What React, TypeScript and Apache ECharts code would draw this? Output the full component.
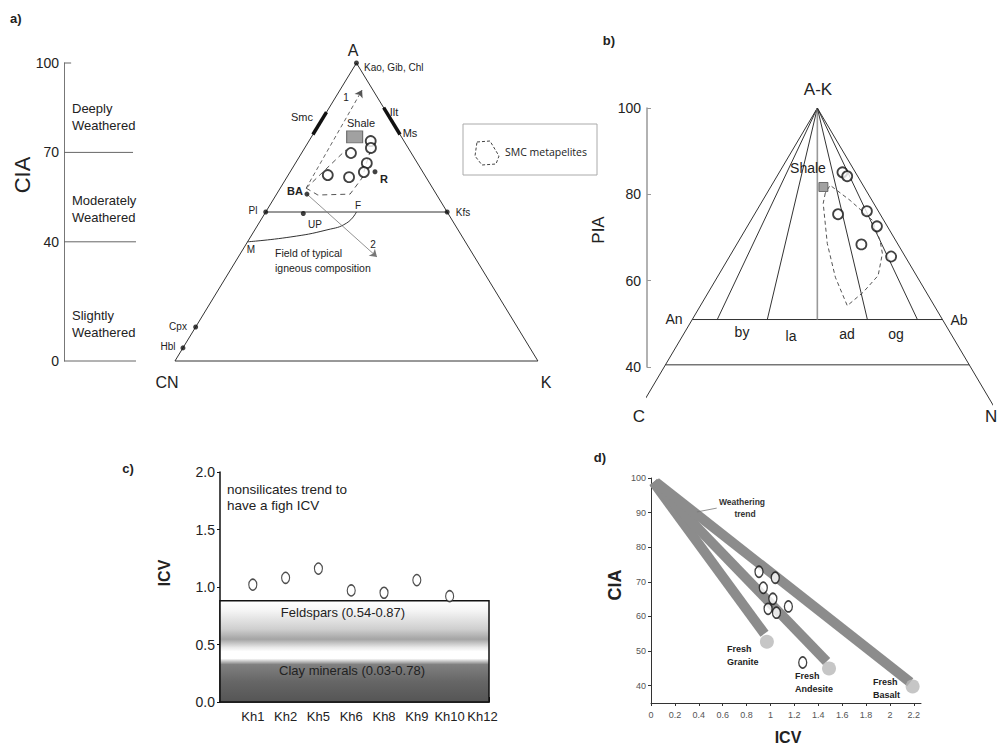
import { useEffect, useRef } from 'react';
import * as echarts from 'echarts';

// ---------------- Panel a: A–CN–K ternary with CIA scale ----------------
const ciaScaleLabels = [0, 40, 70, 100];
const ciaZoneLines = [70, 40, 0];
const ciaZoneNames = [['Deeply', 'Weathered'], ['Moderately', 'Weathered'], ['Slightly', 'Weathered']];
// reference compositions: A (= CIA) and K/(CN+K) share
const aRefNames = ['Kao, Gib, Chl', 'Pl', 'Kfs', 'UP', 'BA', 'R', 'Cpx', 'Hbl'];
const aRefA = [100, 50, 50, 49.5, 56, 63.5, 11.4, 4.4];
const aRefK = [0.5, 0, 1, 0.21, 0.19, 0.64, 0, 0];
const aSampleA = [73.8, 71.5, 69.8, 66.4, 63.4, 61.7, 62.4];
const aSampleK = [0.65, 0.64, 0.45, 0.585, 0.556, 0.447, 0.29];
const aShaleA = 75.2;
const aShaleK = 0.48;
const aSmcA = [76, 83.5];
const aIltA = [85, 76];
const aIgneousA = [40, 41.6, 44, 46.3, 50];
const aIgneousK = [0, 0.187, 0.355, 0.45, 0.5];
const aFieldA = [58, 55.7, 56, 61.4, 68.1, 70.5];
const aFieldK = [0.17, 0.26, 0.46, 0.54, 0.6, 0.63];
const aFieldLinkA = [58, 70.8];
const aFieldLinkK = [0.17, 0.4];
const aTrend1A = [58, 90.9];
const aTrend1K = [0.17, 0.67];
const aTrend2A = [56, 34.9];
const aTrend2K = [0.19, 0.587];

// ---------------- Panel b: A-K – C – N ternary with PIA scale ----------------
const piaScaleLabels = [40, 60, 80, 100];
const plagDivisions = [0.1, 0.3, 0.5, 0.7, 0.9];
const plagNames = ['by', 'la', 'ad', 'og'];
const bFeldsparPIA = 51;
const bBasePIA = 40.5;
const bSamplePIA = [85.1, 84.2, 75.4, 76.1, 72.6, 68.4, 65.6];
const bSampleAb = [0.83, 0.87, 0.665, 0.906, 0.926, 0.773, 0.92];
const bShalePIA = 81.7;
const bShaleAb = 0.565;
const bFieldPIA = [80.3, 77.9, 68.6, 60.8, 54.2, 57.3, 61.2, 66.3, 69.3, 74, 78.6, 82.1, 80.3];
const bFieldAb = [0.579, 0.552, 0.562, 0.59, 0.628, 0.71, 0.807, 0.878, 0.9, 0.914, 0.8, 0.64, 0.579];

// ---------------- Panel c: ICV per sample ----------------
const cCategories = ['Kh1', 'Kh2', 'Kh5', 'Kh6', 'Kh8', 'Kh9', 'Kh10', 'Kh12'];
const cICV = [1.02, 1.08, 1.16, 0.97, 0.95, 1.06, 0.92];
const cMineralTop = 0.88;

// ---------------- Panel d: CIA vs ICV ----------------
const dICV = [0.904, 1.04, 0.94, 1.02, 0.98, 1.05, 1.15, 1.27];
const dCIA = [72.9, 71.2, 68.3, 65.1, 62.2, 61.1, 62.9, 46.7];
const dRocks = ['Granite', 'Andesite', 'Basalt'];
const dTrendStartICV = [0.02, 0.02, 0.04];
const dTrendStartCIA = [98.8, 98.8, 98.8];
const dTrendEndICV = [0.95, 1.47, 2.17];
const dTrendEndCIA = [55, 47, 41];
const dFreshICV = [0.97, 1.49, 2.19];
const dFreshCIA = [52.7, 45, 39.8];
const dXTicks = [0, 0.2, 0.4, 0.6, 0.8, 1, 1.2, 1.4, 1.6, 1.8, 2, 2.2];
const dYTicks = [40, 50, 60, 70, 80, 90, 100];

// ---------------- geometry (layout only) ----------------
const A_CN_X = 37.3;
const A_K_X = 159.3;
const A_APEX_X = 98.3;
const B_APEX_X = 39.5;
const B_SLOPE = 0.592;

function triA(a: number, k: number): [number, number] {
  const left = A_CN_X + (A_APEX_X - A_CN_X) * a / 100;
  const right = A_K_X - (A_K_X - A_APEX_X) * a / 100;
  return [left + k * (right - left), a];
}
function triB(p: number, ab: number): [number, number] {
  const hw = (100 - p) * B_SLOPE;
  return [B_APEX_X + (ab - 0.5) * 2 * hw, p];
}

const FONT = '"Liberation Sans", Arial, Helvetica, sans-serif';

function txt(x: number, y: number, text: string, size: number, opts: any = {}) {
  return {
    type: 'text',
    x,
    y,
    rotation: opts.rotation || 0,
    silent: true,
    z: 10,
    style: {
      text,
      fontSize: size,
      fontFamily: opts.family || FONT,
      fontWeight: opts.bold ? 'bold' : 'normal',
      fill: opts.color || '#222',
      textAlign: opts.align || 'center',
      textVerticalAlign: 'middle',
    },
  };
}

function buildOption() {
  const A = { xAxisIndex: 0, yAxisIndex: 0 };
  const B = { xAxisIndex: 1, yAxisIndex: 1 };
  const C = { xAxisIndex: 2, yAxisIndex: 2 };
  const D = { xAxisIndex: 3, yAxisIndex: 3 };
  const ln = (axes: any, data: any[], color: string, width: number, type: any = 'solid', extra: any = {}) => ({
    type: 'line',
    ...axes,
    data,
    symbol: 'none',
    silent: true,
    clip: false,
    lineStyle: { color, width, type },
    z: 2,
    ...extra,
  });

  const series: any[] = [];

  // ---- Panel a ----
  ciaZoneLines.forEach((v, i) => {
    series.push(ln(A, [[0, v], [i === 0 ? 23.2 : 24.2, v]], '#666', 1));
  });
  series.push(ln(A, [[0, 100], [2.4, 100]], '#666', 1));
  series.push(ln(A, [triA(0, 0), triA(100, 0.5), triA(0, 1), triA(0, 0)], '#333', 1, 'solid', {
    markLine: {
      silent: true,
      symbol: ['none', 'arrow'],
      symbolSize: 7,
      label: { show: false },
      data: [
        [{ coord: triA(aTrend1A[0], aTrend1K[0]) }, { coord: triA(aTrend1A[1], aTrend1K[1]), lineStyle: { type: [4, 3], color: '#555', width: 0.9 } }],
        [{ coord: triA(aTrend2A[0], aTrend2K[0]) }, { coord: triA(aTrend2A[1], aTrend2K[1]), lineStyle: { type: 'solid', color: '#777', width: 0.8 } }],
      ],
    },
  }));
  series.push(ln(A, [triA(50, 0), triA(50, 1)], '#333', 1));
  series.push(ln(A, aIgneousA.map((a, i) => triA(a, aIgneousK[i])), '#333', 1, 'solid', { smooth: true }));
  series.push(ln(A, aSmcA.map((a) => triA(a, 0)), '#111', 3.5));
  series.push(ln(A, aIltA.map((a) => triA(a, 1)), '#111', 3.5));
  series.push(ln(A, aFieldA.map((a, i) => triA(a, aFieldK[i])), '#555', 1, [5, 4]));
  series.push(ln(A, aFieldLinkA.map((a, i) => triA(a, aFieldLinkK[i])), '#555', 1, [5, 4]));
  series.push({
    type: 'scatter', ...A, silent: true, z: 5, symbol: 'circle', symbolSize: 5,
    itemStyle: { color: '#111' },
    data: aRefA.map((a, i) => ({ name: aRefNames[i], value: triA(a, aRefK[i]) })),
  });
  series.push({
    type: 'scatter', ...A, silent: true, z: 5, symbol: 'rect', symbolSize: [16, 12],
    itemStyle: { color: '#8a8a8a', borderColor: '#555', borderWidth: 1 },
    data: [triA(aShaleA, aShaleK)],
  });
  series.push({
    type: 'scatter', ...A, silent: true, z: 6, symbol: 'circle', symbolSize: 10,
    itemStyle: { color: '#fff', borderColor: '#111', borderWidth: 1.8 },
    data: aSampleA.map((a, i) => triA(a, aSampleK[i])),
  });

  // ---- Panel b ----
  series.push(ln(B, [triB(32, 0), triB(100, 0.5), triB(30, 1)], '#333', 1));
  series.push(ln(B, [triB(bFeldsparPIA, 0), triB(bFeldsparPIA, 1)], '#333', 1));
  series.push(ln(B, [triB(bBasePIA, 0), triB(bBasePIA, 1)], '#333', 1));
  plagDivisions.forEach((f) => {
    const mid = Math.abs(f - 0.5) < 1e-6;
    series.push(ln(B, [triB(100, 0.5), triB(bFeldsparPIA, f)], mid ? '#999' : '#333', mid ? 1.6 : 1));
  });
  series.push(ln(B, bFieldPIA.map((p, i) => triB(p, bFieldAb[i])), '#555', 1, [4, 3]));
  series.push({
    type: 'scatter', ...B, silent: true, z: 5, symbol: 'rect', symbolSize: [9, 9],
    itemStyle: { color: '#8a8a8a', borderColor: '#555', borderWidth: 1 },
    data: [triB(bShalePIA, bShaleAb)],
  });
  series.push({
    type: 'scatter', ...B, silent: true, z: 6, symbol: 'circle', symbolSize: 10,
    itemStyle: { color: '#fff', borderColor: '#111', borderWidth: 1.8 },
    data: bSamplePIA.map((p, i) => triB(p, bSampleAb[i])),
  });

  // ---- Panel c ----
  series.push({
    type: 'scatter', ...C, silent: true, z: 6, symbol: 'circle', symbolSize: [8, 11],
    itemStyle: { color: '#fff', borderColor: '#222', borderWidth: 1.3 },
    data: cICV.map((v, i) => [i + 1, v]),
    markArea: {
      silent: true,
      z: 1,
      itemStyle: {
        color: new echarts.graphic.LinearGradient(0, 0, 0, 1, [
          { offset: 0, color: '#ffffff' },
          { offset: 0.1, color: '#f4f4f4' },
          { offset: 0.28, color: '#cfcfcf' },
          { offset: 0.38, color: '#a4a4a4' },
          { offset: 0.46, color: '#e8e8e8' },
          { offset: 0.5, color: '#ffffff' },
          { offset: 0.57, color: '#ffffff' },
          { offset: 0.63, color: '#808080' },
          { offset: 0.8, color: '#666666' },
          { offset: 1, color: '#555555' },
        ]),
        borderColor: '#111',
        borderWidth: 1.5,
      },
      data: [[{ coord: [0, 0] }, { coord: [8.2, cMineralTop] }]],
    },
  });

  // ---- Panel d ----
  dRocks.forEach((_, i) => {
    series.push(ln(D, [[dTrendStartICV[i], dTrendStartCIA[i]], [dTrendEndICV[i], dTrendEndCIA[i]]], '#8c8c8c', 10, 'solid', { z: 2 }));
  });
  series.push(ln(D, [[0.385, 90.2], [0.55, 91.3]], '#777', 0.8));
  series.push({
    type: 'scatter', ...D, silent: true, z: 3, symbol: 'circle', symbolSize: 14,
    itemStyle: { color: '#b8b8b8' },
    data: dFreshICV.map((x, i) => [x, dFreshCIA[i]]),
  });
  series.push({
    type: 'scatter', ...D, silent: true, z: 6, symbol: 'circle', symbolSize: [8, 11],
    itemStyle: { color: '#fff', borderColor: '#111', borderWidth: 1.5 },
    data: dICV.map((x, i) => [x, dCIA[i]]),
  });

  const hiddenX = (gi: number, min: number, max: number) => ({
    type: 'value', gridIndex: gi, min, max, show: false, splitLine: { show: false },
  });

  const graphic: any[] = [
    // panel a
    txt(10, 18, 'a)', 13, { bold: true, align: 'left' }),
    txt(22, 175, 'CIA', 22, { rotation: Math.PI / 2 }),
    ...ciaZoneNames.flatMap((names, i) => {
      const ys = [[108, 125], [200, 217], [315, 332]][i];
      return names.map((n, j) => txt(72, ys[j], n, 13, { align: 'left' }));
    }),
    txt(353, 50, 'A', 16),
    txt(167, 382, 'CN', 16),
    txt(546, 382, 'K', 16),
    txt(364, 67, aRefNames[0], 10, { align: 'left' }),
    txt(302, 117, 'Smc', 11),
    txt(394, 112, 'Ilt', 11),
    txt(410, 133, 'Ms', 11),
    txt(361, 123, 'Shale', 11),
    txt(384, 179, 'R', 11, { bold: true }),
    txt(295, 191, 'BA', 11, { bold: true }),
    txt(253, 210, 'Pl', 10),
    txt(463, 212, 'Kfs', 10),
    txt(315, 224, 'UP', 10),
    txt(358, 205, 'F', 10),
    txt(251, 249, 'M', 10),
    txt(346, 97, '1', 10),
    txt(373, 244, '2', 10),
    txt(275, 253, 'Field of typical', 10.5, { align: 'left' }),
    txt(275, 268, 'igneous composition', 10.5, { align: 'left' }),
    txt(178, 326, 'Cpx', 10),
    txt(168, 346, 'Hbl', 10),
    {
      type: 'rect', silent: true, z: 9,
      shape: { x: 463, y: 124, width: 134, height: 51 },
      style: { fill: '#fff', stroke: '#aaa', lineWidth: 1 },
    },
    {
      type: 'polygon', silent: true, z: 10,
      shape: { points: [[477, 142], [490, 141], [499, 156], [496, 164], [482, 165], [475, 156]] },
      style: { fill: 'none', stroke: '#444', lineWidth: 1, lineDash: [3, 2] },
    },
    txt(505, 152, 'SMC metapelites', 10.5, { align: 'left', family: '"Open Sans", sans-serif' }),
    // panel b
    txt(609, 40, 'b)', 13, { bold: true }),
    txt(818, 89, 'A-K', 17),
    txt(598, 230, 'PIA', 17, { rotation: Math.PI / 2 }),
    txt(808, 168, 'Shale', 14),
    txt(674, 319, 'An', 14),
    txt(959, 320, 'Ab', 14),
    ...plagNames.map((n, i) => txt([742, 791, 847, 896][i], [332, 336, 334, 334][i], n, 14)),
    txt(639, 416, 'C', 17),
    txt(985, 416, 'N', 17, { align: 'left' }),
    // panel c
    txt(128, 468, 'c)', 13, { bold: true }),
    txt(164, 573, 'ICV', 16, { bold: true, rotation: Math.PI / 2 }),
    txt(227, 489, 'nonsilicates trend to', 13.5, { align: 'left' }),
    txt(227, 505, 'have a figh ICV', 13.5, { align: 'left' }),
    txt(343, 612, 'Feldspars (0.54-0.87)', 13),
    txt(352, 670, 'Clay minerals (0.03-0.78)', 13),
    // panel d
    txt(600, 457, 'd)', 13, { bold: true }),
    txt(615, 585, 'CIA', 18, { bold: true, rotation: Math.PI / 2 }),
    txt(742, 502, 'Weathering', 8.5, { bold: true, color: '#333' }),
    txt(745, 514, 'trend', 8.5, { bold: true, color: '#333' }),
    ...dRocks.flatMap((r, i) => {
      const x = [727, 795, 873][i];
      const y = [649, 676, 682][i];
      return [
        txt(x, y, 'Fresh', 9, { bold: true, align: 'left', color: '#222' }),
        txt(x, y + 13, r, 9, { bold: true, align: 'left', color: '#222' }),
      ];
    }),
    txt(788, 737, 'ICV', 16, { bold: true }),
  ];

  return {
    animation: false,
    backgroundColor: '#fff',
    grid: [
      { left: 64, top: 63, width: 476, height: 298 },
      { left: 647, top: 108, width: 345, height: 259 },
      { left: 220, top: 472, width: 269, height: 230 },
      { left: 651, top: 478, width: 270, height: 225 },
    ],
    xAxis: [
      hiddenX(0, 0, 160),
      hiddenX(1, 0, 80),
      {
        type: 'value', gridIndex: 2, min: 0, max: 8.2, interval: 1,
        splitLine: { show: false },
        axisLine: { show: true, lineStyle: { color: '#111', width: 1.5 } },
        axisTick: { show: true, inside: true, length: 5, lineStyle: { color: '#111' } },
        axisLabel: {
          color: '#222', fontSize: 13, fontFamily: FONT, margin: 8,
          formatter: (v: number) => {
            const i = Math.round(v);
            return Math.abs(v - i) < 1e-6 && i >= 1 && i <= cCategories.length ? cCategories[i - 1] : '';
          },
        },
      },
      {
        type: 'value', gridIndex: 3, min: 0, max: 2.26,
        splitLine: { show: false },
        axisLine: { show: true, lineStyle: { color: '#333', width: 1 } },
        axisTick: { show: true, length: 3, customValues: dXTicks, lineStyle: { color: '#333' } },
        axisLabel: { color: '#555', fontSize: 9, fontFamily: FONT, margin: 7, customValues: dXTicks, formatter: (v: number) => String(Math.round(v * 10) / 10) },
      },
    ],
    yAxis: [
      {
        type: 'value', gridIndex: 0, min: 0, max: 100, interval: 10,
        splitLine: { show: false },
        axisLine: { show: true, lineStyle: { color: '#777', width: 1 } },
        axisTick: { show: false },
        axisLabel: {
          color: '#222', fontSize: 14, fontFamily: FONT, margin: 5,
          formatter: (v: number) => (ciaScaleLabels.includes(v) ? String(v) : ''),
        },
      },
      {
        type: 'value', gridIndex: 1, min: 40, max: 100, interval: 20,
        splitLine: { show: false },
        axisLine: { show: true, lineStyle: { color: '#999', width: 1.5 } },
        axisTick: { show: true, inside: true, length: 4, lineStyle: { color: '#999' } },
        axisLabel: {
          color: '#222', fontSize: 14, fontFamily: FONT, margin: 6,
          formatter: (v: number) => (piaScaleLabels.includes(v) ? String(v) : ''),
        },
      },
      {
        type: 'value', gridIndex: 2, min: 0, max: 2, interval: 0.5,
        splitLine: { show: false },
        axisLine: { show: true, lineStyle: { color: '#111', width: 1.5 } },
        axisTick: { show: true, length: 3, lineStyle: { color: '#111' } },
        axisLabel: { color: '#222', fontSize: 14, fontFamily: FONT, margin: 5, formatter: (v: number) => v.toFixed(1) },
      },
      {
        type: 'value', gridIndex: 3, min: 35, max: 100,
        splitLine: { show: false },
        axisLine: { show: true, lineStyle: { color: '#333', width: 1 } },
        axisTick: { show: true, length: 3, customValues: dYTicks, lineStyle: { color: '#333' } },
        axisLabel: { color: '#555', fontSize: 9, fontFamily: FONT, margin: 5, customValues: dYTicks },
      },
    ],
    series,
    graphic,
  };
}

export default function App() {
  const ref = useRef<HTMLDivElement>(null);
  useEffect(() => {
    if (!ref.current) return;
    const chart = echarts.init(ref.current, undefined, { renderer: 'svg' });
    chart.setOption(buildOption() as any);
    return () => chart.dispose();
  }, []);
  return (
    <div
      ref={ref}
      style={{ position: 'fixed', left: 0, top: 0, width: 1000, height: 748, background: '#fff' }}
    />
  );
}
